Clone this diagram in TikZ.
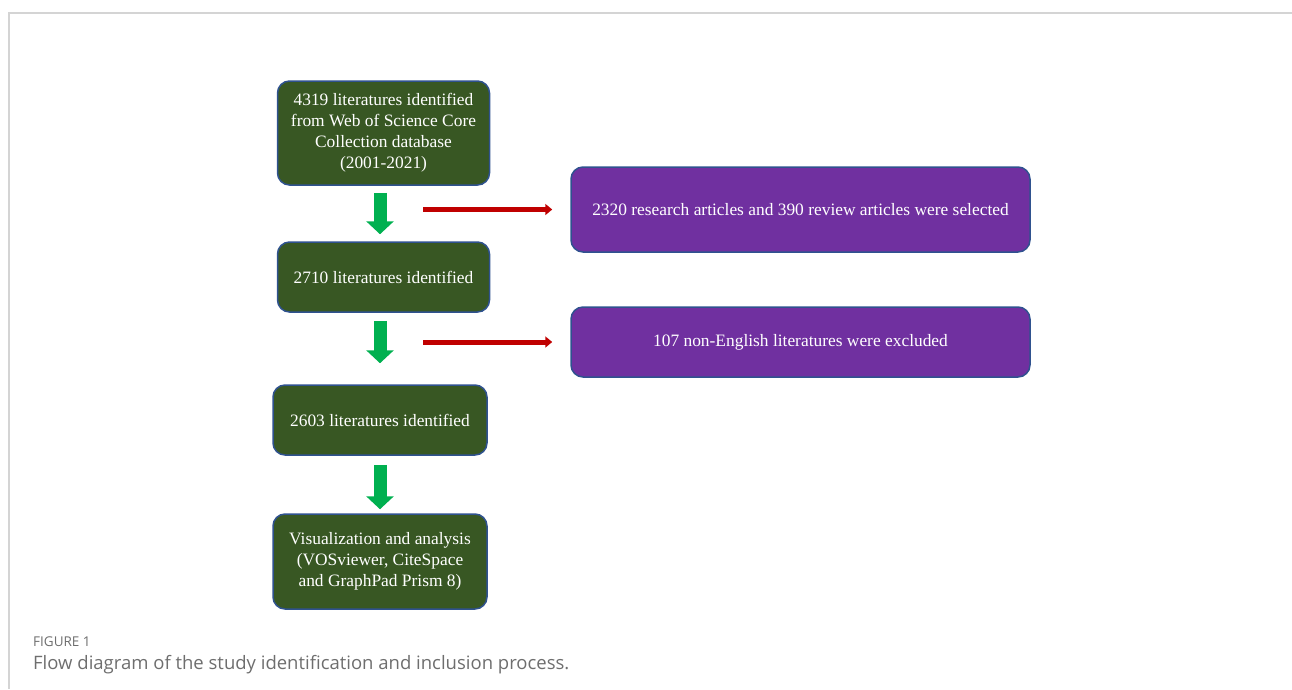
\documentclass[tikz,border=0pt]{standalone}
\usepackage{fontspec}
\setmainfont{Liberation Serif}
\newfontfamily\capfont{Open Sans}
\usetikzlibrary{arrows.meta}
\definecolor{boxgreen}{HTML}{385723}
\definecolor{boxblue}{HTML}{2F528F}
\definecolor{boxpurple}{HTML}{7030A0}
\definecolor{arrgreen}{HTML}{00B050}
\definecolor{arrred}{HTML}{C00000}
\definecolor{capgray}{HTML}{6E6E6E}
\definecolor{framegray}{HTML}{D4D4D4}
\begin{document}
\begin{tikzpicture}[x=1pt,y=-1pt,
    stepbox/.style={draw=boxblue,line width=1.5pt,rounded corners=12pt,text=white,
      align=center,inner sep=0pt,font=\fontsize{17.4}{21}\selectfont},
    greenbox/.style={stepbox,fill=boxgreen},
    purplebox/.style={stepbox,fill=boxpurple},
    grarrow/.style={draw=arrgreen,line width=13pt,-{Triangle[width=27pt,length=13pt]}},
    redarrow/.style={draw=arrred,line width=5pt,-{Triangle[width=11pt,length=7pt]}},
    captext/.style={anchor=base west,text=capgray,inner sep=0pt}]
  \useasboundingbox (0,0) rectangle (1292,689);
  \draw[framegray,line width=1.5pt] (1292,13) -- (9,13) -- (9,689);

  % main column
  \node[greenbox,minimum width=212pt,minimum height=104pt] (b1) at (383.5,133)
    {4319 literatures identified\\from Web of Science Core\\Collection database\\(2001-2021)};
  \node[greenbox,minimum width=212pt,minimum height=70pt] (b2) at (383.5,277)
    {2710 literatures identified};
  \node[greenbox,minimum width=214pt,minimum height=70pt] (b3) at (380,420)
    {2603 literatures identified};
  \node[greenbox,minimum width=214pt,minimum height=95pt] (b4) at (380,561.5)
    {Visualization and analysis\\(VOSviewer, CiteSpace\\and GraphPad Prism 8)};

  % side boxes
  \node[purplebox,minimum width=459pt,minimum height=85pt] (p1) at (800.5,209.5)
    {2320 research articles and 390 review articles were selected};
  \node[purplebox,minimum width=459pt,minimum height=70pt] (p2) at (800.5,342)
    {107 non-English literatures were excluded};

  \draw[grarrow,shorten <=7pt,shorten >=7pt] (b1.south -| b4) -- (b2.north -| b4);
  \draw[grarrow,shorten <=8pt,shorten >=21pt] (b2.south -| b4) -- (b3.north -| b4);
  \draw[grarrow,shorten <=9pt,shorten >=4pt] (b3.south -| b4) -- (b4.north);

  \coordinate (r1) at (423,209.5);
  \coordinate (r2) at (423,342);
  \foreach \s/\t in {r1/p1,r2/p2}
    \draw[redarrow,shorten >=18pt] (\s) -- (\t);

  % caption
  \node[captext,font=\capfont\fontsize{13.5}{16}\selectfont] (fig) at (33,646) {FIGURE 1};
  \node[captext,font=\capfont\fontsize{18.5}{22}\selectfont] (cap) at (33,669)
    {Flow diagram of the study identification and inclusion process.};
\end{tikzpicture}
\end{document}
